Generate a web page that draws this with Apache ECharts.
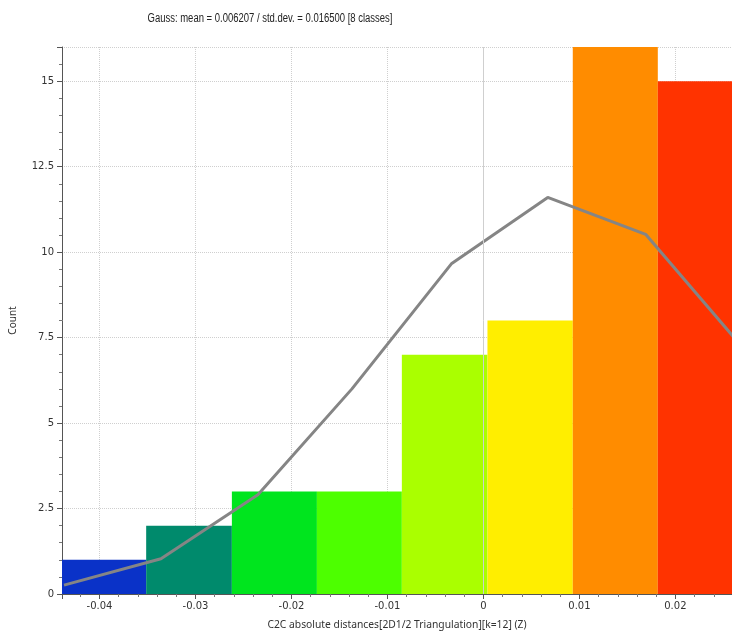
<!DOCTYPE html>
<html>
<head>
<meta charset="utf-8">
<script src="https://cdn.jsdelivr.net/npm/echarts@6/dist/echarts.min.js"></script>
<style>
html,body{margin:0;padding:0;background:#fff;}
#chart{width:732px;height:632px;}
</style>
</head>
<body>
<div id="chart"></div>
<script>
// Histogram classes (bin edges) and counts
const binEdges = [-0.04391, -0.03514, -0.02621, -0.01735, -0.00850, 0.00042, 0.00931, 0.01817, 0.02702];
const counts = [1, 2, 3, 3, 7, 8, 16, 15];
const binColors = ['#0a32c8', '#008a6c', '#00e51e', '#4dff00', '#aaff00', '#ffee00', '#ff8c00', '#ff3300'];
// Gaussian curve samples
const gaussX = [-0.0437, -0.0336, -0.0235, -0.0137, -0.0033, 0.0067, 0.0169, 0.0271];
const gaussY = [0.26, 1.03, 2.9, 6.0, 9.67, 11.6, 10.52, 7.18];

const titleText = 'Gauss: mean = 0.006207 / std.dev. = 0.016500 [8 classes]';
const xName = 'C2C absolute distances[2D1/2 Triangulation][k=12] (Z)';
const yName = 'Count';

const barData = counts.map((c, i) => [binEdges[i], binEdges[i + 1], c]);
const lineData = gaussX.map((x, i) => [x, gaussY[i]]);

const chart = echarts.init(document.getElementById('chart'));
const labelFont = 'DejaVu Sans';
chart.setOption({
  animation: false,
  backgroundColor: '#fff',
  graphic: [{
    type: 'text', x: 270, y: 19, scaleX: 0.79, silent: true,
    style: {
      text: titleText, align: 'center', verticalAlign: 'middle',
      font: '12px "Liberation Sans"', fill: '#222'
    }
  }],
  grid: {left: 62, top: 47, right: 0, bottom: 38, containLabel: false, outerBoundsMode: 'none'},
  xAxis: {
    type: 'value',
    min: -0.04391, max: 0.0259,
    minInterval: 0.01, maxInterval: 0.01,
    name: xName, nameLocation: 'middle', nameGap: 26,
    nameTextStyle: {fontFamily: 'Noto Sans', fontSize: 10.3, color: '#333'},
    axisLine: {show: true, onZero: false, lineStyle: {color: '#555', width: 1}},
    axisTick: {show: true, length: 5, lineStyle: {color: '#555'}},
    minorTick: {show: true, splitNumber: 5, length: 3, lineStyle: {color: '#777'}},
    axisLabel: {showMinLabel: false, showMaxLabel: false, margin: 7, fontFamily: labelFont, fontSize: 10, color: '#333'},
    splitLine: {show: true, lineStyle: {type: 'dotted', color: '#cfcfcf', width: 1}}
  },
  yAxis: {
    type: 'value',
    min: 0, max: 16, interval: 2.5,
    name: yName, nameLocation: 'middle', nameGap: 44, nameRotate: 90,
    nameTextStyle: {fontFamily: 'Noto Sans', fontSize: 10, color: '#333'},
    axisLine: {show: true, onZero: false, lineStyle: {color: '#555', width: 1}},
    axisTick: {show: true, length: 5, lineStyle: {color: '#555'}},
    minorTick: {show: true, splitNumber: 5, length: 3, lineStyle: {color: '#777'}},
    axisLabel: {showMaxLabel: false, margin: 8, fontFamily: labelFont, fontSize: 10, color: '#333'},
    splitLine: {show: true, lineStyle: {type: 'dotted', color: '#cfcfcf', width: 1}}
  },
  series: [
    {
      type: 'line', data: [], z: 1, silent: true,
      markLine: {
        silent: true, symbol: 'none', label: {show: false},
        lineStyle: {type: 'solid', color: '#cfcfcf', width: 1},
        data: [{xAxis: 0}]
      }
    },
    {
      type: 'custom', z: 2, silent: true,
      data: barData,
      encode: {x: [0, 1], y: 2},
      renderItem: function (params, api) {
        const p0 = api.coord([api.value(0), api.value(2)]);
        const p1 = api.coord([api.value(1), 0]);
        const cs = params.coordSys;
        const rect = echarts.graphic.clipRectByRect(
          {x: p0[0], y: p0[1], width: p1[0] - p0[0], height: p1[1] - p0[1]},
          {x: cs.x, y: cs.y, width: cs.width, height: cs.height}
        );
        return rect && {type: 'rect', shape: rect, style: {fill: binColors[params.dataIndex]}};
      }
    },
    {
      type: 'line', z: 3, silent: true,
      data: lineData,
      symbol: 'none',
      clip: true,
      lineStyle: {color: '#858585', width: 3}
    }
  ]
});
</script>
</body>
</html>
